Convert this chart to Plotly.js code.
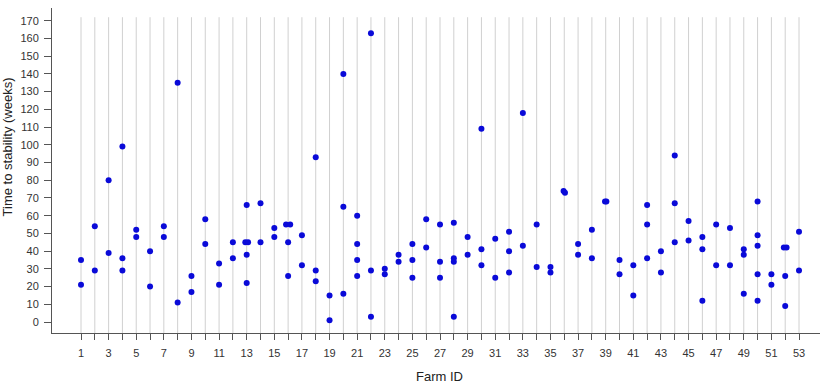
<!DOCTYPE html>
<html>
<head>
<meta charset="utf-8">
<script src="https://cdn.plot.ly/plotly-3.0.1.min.js"></script>
<style>html,body{margin:0;padding:0;background:#fff;}#chart{width:820px;height:391px;}</style>
</head>
<body>
<div id="chart"></div>
<script>
// Farm IDs (one entry per observation)
const farmIds = [
  1,1, 2,2, 3,3, 4,4,4, 5,5, 6,6, 7,7, 8,8, 9,9, 10,10,
  11,11, 12,12, 13,13,13,13,13, 14,14, 15,15, 16,16,16,16, 17,17, 18,18,18,
  19,19, 20,20,20, 21,21,21,21, 22,22,22, 23,23, 24,24, 25,25,25, 26,26,
  27,27,27, 28,28,28,28, 29,29, 30,30,30, 31,31, 32,32,32, 33,33, 34,34,
  35,35, 36,36, 37,37, 38,38, 39,39, 40,40, 41,41, 42,42,42, 43,43,
  44,44,44, 45,45, 46,46,46, 47,47, 48,48, 49,49,49, 50,50,50,50,50,
  51,51, 52,52,52,52, 53,53
];
// Time to stability (weeks)
const weeks = [
  35,21, 54,29, 80,39, 99,36,29, 52,48, 40,20, 54,48, 135,11, 26,17, 58,44,
  33,21, 45,36, 66,45,45,38,22, 67,45, 53,48, 55,55,45,26, 49,32, 93,29,23,
  15,1, 140,65,16, 60,44,35,26, 163,29,3, 30,27, 38,34, 44,35,25, 58,42,
  55,34,25, 56,36,34,3, 48,38, 109,41,32, 47,25, 51,40,28, 118,43, 55,31,
  31,28, 74,73, 44,38, 52,36, 68,68, 35,27, 32,15, 66,55,36, 40,28,
  94,67,45, 57,46, 48,41,12, 55,32, 53,32, 41,38,16, 68,49,43,27,12,
  27,21, 42,42,26,9, 51,29
];
// small horizontal jitter (farm units)
const jitter = [
  0,0, 0,0, 0,0, 0,0,0, 0,0, 0,0, 0,0, 0,0, 0,0, 0,0,
  0,0, 0,0, 0,-0.1,0.1,0,0, 0,0, 0,0, -0.15,0.15,0,0, 0,0, 0,0,0,
  0,0, 0,0,0, 0,0,0,0, 0,0,0, 0,0, 0,0, 0,0,0, 0,0,
  0,0,0, 0,0,0,0, 0,0, 0,0,0, 0,0, 0,0,0, 0,0, 0,0,
  0,0, -0.05,0.05, 0,0, 0,0, -0.05,0.05, 0,0, 0,0, 0,0,0, 0,0,
  0,0,0, 0,0, 0,0,0, 0,0, 0,0, 0,0,0, 0,0,0,0,0,
  0,0, -0.1,0.1,0,0, 0,0
];
const farms = Array.from({length: 53}, (_, i) => i + 1);
const farmTickText = farms.map(f => (f % 2 === 1 ? String(f) : ''));
const yTicks = [0,10,20,30,40,50,60,70,80,90,100,110,120,130,140,150,160,170];

const xs = farmIds.map((f, i) => f + jitter[i]);

const gridShapes = farms.map(f => ({
  type: 'line', xref: 'x', yref: 'y', layer: 'below',
  x0: f, x1: f, y0: -6.2, y1: 172,
  line: {color: '#d0d0d0', width: 1}
}));

const trace = {
  type: 'scatter', mode: 'markers',
  x: xs, y: weeks,
  marker: {color: '#0a0ad8', size: 6},
  hoverinfo: 'x+y'
};

const layout = {
  width: 820, height: 391,
  margin: {l: 52, r: 0, t: 8, b: 58},
  paper_bgcolor: '#ffffff', plot_bgcolor: '#ffffff',
  font: {family: 'Liberation Sans, Arial, sans-serif', color: '#333'},
  showlegend: false,
  xaxis: {
    range: [-1.1, 54.52],
    tickmode: 'array', tickvals: farms, ticktext: farmTickText,
    ticks: 'outside', ticklen: 6, tickcolor: '#555', tickwidth: 1,
    showline: true, linecolor: '#555', linewidth: 1,
    showgrid: false, zeroline: false,
    tickfont: {size: 11, color: '#333'},
    ticklabelstandoff: 4
  },
  yaxis: {
    range: [-6.2, 177.2],
    tickmode: 'array', tickvals: yTicks,
    ticks: 'outside', ticklen: 7, tickcolor: '#555', tickwidth: 1,
    showline: true, linecolor: '#555', linewidth: 1,
    showgrid: false, zeroline: false,
    tickfont: {size: 11, color: '#333'},
    ticklabelstandoff: 3
  },
  shapes: gridShapes,
  annotations: [
    {text: 'Farm ID', xref: 'paper', yref: 'paper', x: 0.505, y: -0.135,
     xanchor: 'center', yanchor: 'middle', showarrow: false,
     font: {size: 13, color: '#222'}},
    {text: 'Time to stability (weeks)', xref: 'paper', yref: 'paper', x: -0.0582, y: 0.572,
     xanchor: 'center', yanchor: 'middle', showarrow: false, textangle: -90,
     font: {size: 13, color: '#222'}}
  ]
};

Plotly.newPlot('chart', [trace], layout, {displayModeBar: false, staticPlot: true});
</script>
</body>
</html>
